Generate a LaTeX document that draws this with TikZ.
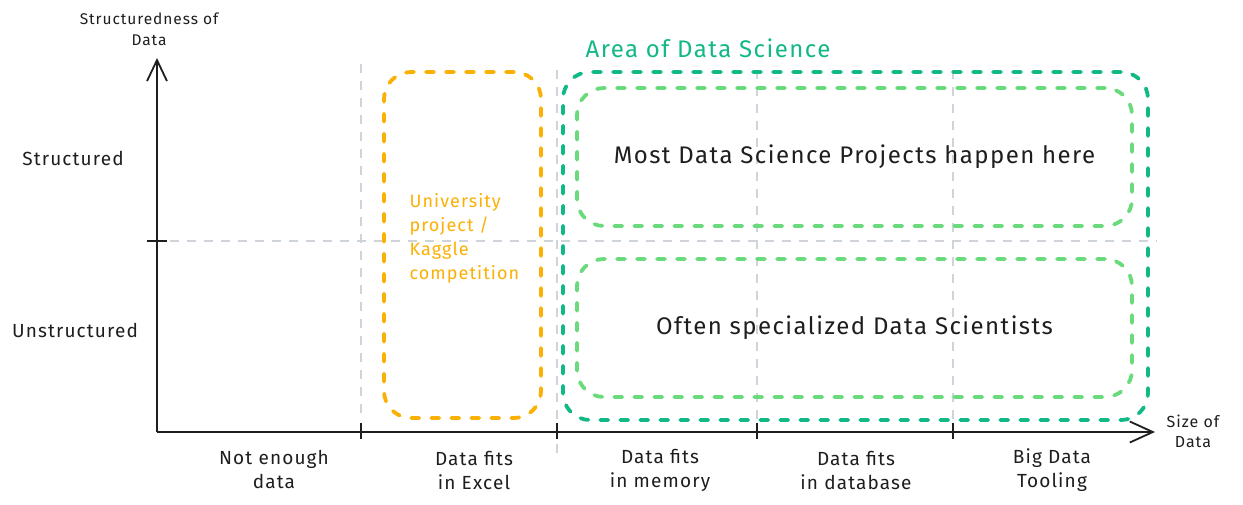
\documentclass[tikz,border=0pt]{standalone}
\usepackage{fontspec}
\setmainfont{Fira Sans}[LetterSpace=6]
\usetikzlibrary{arrows.meta,positioning}
\definecolor{Ink}{HTML}{1E1E1E}
\definecolor{Grid}{HTML}{CED4DA}
\definecolor{Amber}{HTML}{FAB005}
\definecolor{Teal}{HTML}{12B886}
\definecolor{Leaf}{HTML}{69DB7C}

\begin{document}
\begin{tikzpicture}[
      x=1pt, y=-1pt,
      axis/.style={draw=Ink, line width=1.8pt},
      gridline/.style={draw=Grid, line width=1.8pt, dash pattern=on 9pt off 8pt},
      zone/.style={line width=3.8pt, dash pattern=on 8pt off 12pt, line cap=round,
                   rounded corners=27pt, inner sep=0pt, outer sep=0pt},
      lbl/.style={text=Ink, font=\fontsize{19}{24}\selectfont, align=center},
      small/.style={text=Ink, font=\fontsize{15.5}{21}\selectfont, align=center},
      big/.style={text=Ink, font=\fontsize{24}{28}\selectfont}
    ]
      \useasboundingbox (0,0) rectangle (1243,504);
      % grid
      \draw[gridline] (361,64) -- (361,420);
      \draw[gridline] (557,70) -- (557,456);
      \draw[gridline] (757,70) -- (757,420);
      \draw[gridline] (953,70) -- (953,420);
      \draw[gridline] (170,241) -- (1157,241);
      % axes
      \coordinate (O) at (157,432);
      \coordinate (ytop) at (157,58);
      \coordinate (xend) at (1155,432);
      \draw[axis, -{Straight Barb[length=21pt,width=20pt]}] (O) -- (ytop);
      \draw[axis, -{Straight Barb[length=23pt,width=21pt]}] (O) -- (xend);
      \draw[axis] (147,241) -- (167,241);
      \foreach \x in {361,557,757,953}
        \draw[axis] (\x,423) -- (\x,439);
      % zones
      \node[zone, draw=Amber, minimum width=157pt, minimum height=346pt] (excel) at (462.5,245) {};
      \node[zone, draw=Teal, minimum width=585pt, minimum height=348pt] (ds) at (855.5,246) {};
      \node[zone, draw=Leaf, minimum width=555pt, minimum height=138pt] (top) at (854.5,157) {};
      \node[zone, draw=Leaf, minimum width=555pt, minimum height=138pt] (bottom) at (854.5,328) {};
      % labels
      \node[text=Teal, font=\fontsize{24}{28}\selectfont] (dstitle) at (708,48) {Area of Data Science};
      \node[big] (most) at (top) {Most Data Science Projects happen here};
      \node[big] (often) at (bottom) {Often specialized Data Scientists};
      \node[text=Amber, font=\fontsize{18}{24}\selectfont, align=left, anchor=west] (uni) at (406,238)
        {University\\project /\\Kaggle\\competition};
      \node[small] (ylabel) at (149,29) {Structuredness of\\Data};
      \node[small, font=\fontsize{16}{20}\selectfont] (xlabel) at (1193,431) {Size of\\Data};
      \node[lbl] (structured) at (73,158) {Structured};
      \node[lbl] (unstructured) at (75,330) {Unstructured};
      \node[lbl] (c1) at (274,470) {Not enough\\data};
      \node[lbl] (c2) at (474,470) {Data fits\\in Excel};
      \node[lbl] (c3) at (660,470) {Data fits\\in memory};
      \node[lbl] (c4) at (856,470) {Data fits\\in database};
      \node[lbl] (c5) at (1052,470) {Big Data\\Tooling};
    \end{tikzpicture}
\end{document}
